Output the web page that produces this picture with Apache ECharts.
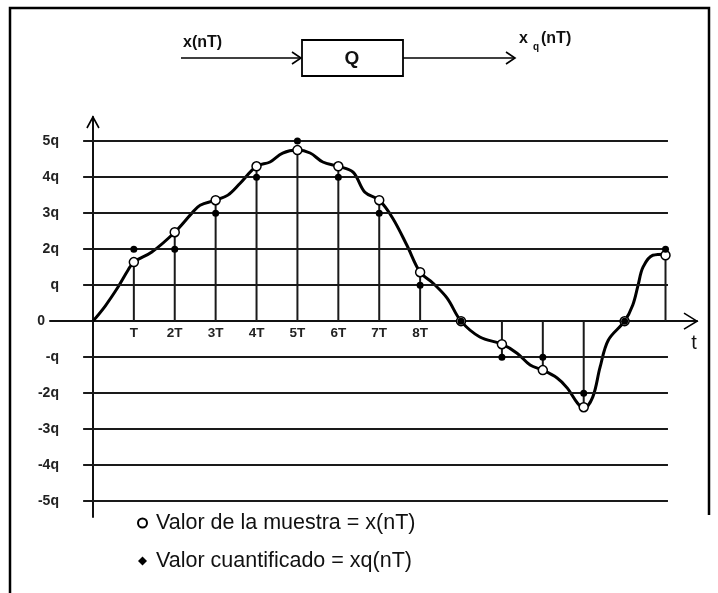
<!DOCTYPE html>
<html>
<head>
<meta charset="utf-8">
<script src="https://cdn.jsdelivr.net/npm/echarts@6/dist/echarts.min.js"></script>
<style>
html,body{margin:0;padding:0;background:#fff;}
#c{width:718px;height:593px;}
</style>
</head>
<body>
<div id="c"></div>
<script>
// ---- data ----
const sampleTimes = [1, 2, 3, 4, 5, 6, 7, 8, 9, 10, 11, 12, 13, 14];
const sampleValues = [1.64, 2.47, 3.36, 4.3, 4.75, 4.3, 3.36, 1.36, 0, -0.64, -1.36, -2.39, 0, 1.83];
const quantizedValues = [2, 2, 3, 4, 5, 4, 3, 1, 0, -1, -1, -2, 0, 2];
const stemEnds = [1.64, 2.47, 3.36, 4.3, 4.75, 4.3, 3.36, 1.36, 0, -1, -1.36, -2.3, 0, 2];
const curveT = [0, 0.3, 0.61, 0.86, 1, 1.44, 2, 2.42, 2.62, 3, 3.3, 3.6, 4, 4.33, 4.64, 5, 5.31, 5.62, 6, 6.36, 6.65, 7, 7.33, 7.68, 8, 8.31, 8.66, 9, 9.46, 10, 10.37, 10.69, 11, 11.35, 11.6, 11.85, 12, 12.22, 12.4, 12.6, 13, 13.2, 13.33, 13.45, 13.69, 14];
const curveV = [0, 0.42, 0.94, 1.42, 1.64, 1.92, 2.47, 3.0, 3.22, 3.36, 3.5, 3.83, 4.3, 4.42, 4.67, 4.75, 4.67, 4.42, 4.3, 4.14, 3.58, 3.36, 2.86, 2.1, 1.36, 1.06, 0.64, 0, -0.44, -0.64, -0.89, -1.22, -1.36, -1.58, -1.86, -2.28, -2.42, -2.11, -1.28, -0.53, 0, 0.45, 1.0, 1.5, 1.83, 1.86];
const xTickValues = [1, 2, 3, 4, 5, 6, 7, 8];
const xTickLabels = ['T', '2T', '3T', '4T', '5T', '6T', '7T', '8T'];
const yTickValues = [5, 4, 3, 2, 1, 0, -1, -2, -3, -4, -5];
const yTickLabels = ['5q', '4q', '3q', '2q', 'q', '0', '-q', '-2q', '-3q', '-4q', '-5q'];
const gridLevels = [5, 4, 3, 2, 1, -1, -2, -3, -4, -5];
const seriesNames = ['Valor de la muestra = x(nT)', 'Valor cuantificado = xq(nT)'];

// ---- layout ----
const FONT = 'Liberation Sans, Arial, sans-serif';
const xMin = -1.05, xMax = 14.77, yMin = -5.44, yMax = 5.67;
const gridStart = -0.24, gridEnd = 14.06;
const G = { left: 50, right: 21, top: 117, bottom: 76 };
const W = 718, H = 593;
const gw = W - G.left - G.right, gh = H - G.top - G.bottom;
// shift axes so they cross at (0,0)
const xAxisOffset = -(gh * (0 - yMin) / (yMax - yMin));
const yAxisOffset = -(gw * (0 - xMin) / (xMax - xMin));

const chart = echarts.init(document.getElementById('c'));
chart.setOption({
  animation: false,
  backgroundColor: '#fff',
  grid: G,
  legend: {
    orient: 'vertical', left: 132, top: 507,
    itemWidth: 9, itemHeight: 9, itemGap: 16,
    selectedMode: false,
    textStyle: { fontFamily: FONT, fontSize: 21.5, color: '#111', padding: [0, 0, 0, 4] },
    data: [{ name: seriesNames[0], icon: 'circle' }, { name: seriesNames[1], icon: 'diamond' }]
  },
  xAxis: {
    type: 'value', min: xMin, max: xMax, position: 'bottom', offset: xAxisOffset,
    axisLine: { onZero: false, lineStyle: { color: '#111', width: 2 } },
    axisTick: { show: false },
    splitLine: { show: false },
    axisLabel: {
      customValues: xTickValues,
      formatter: v => { const i = xTickValues.indexOf(v); return i >= 0 ? xTickLabels[i] : ''; },
      fontFamily: FONT, fontWeight: 'bold', fontSize: 13.5, color: '#222', margin: 5
    }
  },
  yAxis: {
    type: 'value', min: yMin, max: yMax, position: 'left', offset: yAxisOffset,
    axisLine: { onZero: false, lineStyle: { color: '#111', width: 2 } },
    axisTick: { show: false },
    splitLine: { show: false },
    axisLabel: {
      customValues: yTickValues,
      formatter: v => {
        const i = yTickValues.indexOf(v);
        if (i < 0) return '';
        return v === 0 ? '{z|' + yTickLabels[i] + '}' : yTickLabels[i];
      },
      rich: { z: { fontFamily: FONT, fontWeight: 'bold', fontSize: 14, color: '#222', padding: [0, 14, 0, 0] } },
      fontFamily: FONT, fontWeight: 'bold', fontSize: 14, color: '#222', margin: 34
    }
  },
  series: [
    {
      type: 'bar', name: 'stems', silent: true, z: 2,
      barWidth: 2,
      itemStyle: { color: '#1a1a1a' },
      data: sampleTimes.map((t, i) => [t, stemEnds[i]]),
      markLine: {
        silent: true, symbol: ['none', 'none'], label: { show: false },
        lineStyle: { color: '#1a1a1a', width: 2, type: 'solid' },
        emphasis: { disabled: true },
        data: gridLevels.map(k => [{ coord: [gridStart, k] }, { coord: [gridEnd, k] }])
      }
    },
    {
      type: 'line', name: 'curve', silent: true, z: 3,
      smooth: 0.35, symbol: 'none',
      lineStyle: { color: '#000', width: 3 },
      data: curveT.map((t, i) => [t, curveV[i]])
    },
    {
      type: 'scatter', name: seriesNames[0], z: 4,
      symbol: 'circle', symbolSize: 9,
      itemStyle: { color: '#fff', borderColor: '#000', borderWidth: 1.5, opacity: 1 },
      data: sampleTimes.map((t, i) => [t, sampleValues[i]])
    },
    {
      type: 'scatter', name: seriesNames[1], z: 5,
      symbol: 'circle', symbolSize: 7,
      itemStyle: { color: '#000', opacity: 1 },
      data: sampleTimes.map((t, i) => [t, quantizedValues[i]])
    }
  ]
});

// ---- decorations: arrows, axis name, block diagram, frame ----
const px = p => chart.convertToPixel({ gridIndex: 0 }, p);
const xEnd = px([xMax, 0]);
const yEnd = px([0, yMax]);
const stroke = { stroke: '#000', lineWidth: 1.6, fill: null };
chart.setOption({
  graphic: [
    { type: 'polyline', shape: { points: [[xEnd[0] - 13, xEnd[1] - 8], xEnd, [xEnd[0] - 13, xEnd[1] + 8]] }, style: stroke, z: 10 },
    { type: 'polyline', shape: { points: [[yEnd[0] - 6, yEnd[1] + 11], yEnd, [yEnd[0] + 6, yEnd[1] + 11]] }, style: stroke, z: 10 },
    { type: 'text', x: xEnd[0] - 3, y: xEnd[1] + 22, style: { text: 't', font: '20px ' + FONT, fill: '#111', align: 'center', verticalAlign: 'middle' } },
    // block diagram
    { type: 'text', x: 183, y: 43, style: { text: 'x(nT)', font: 'bold 16px ' + FONT, fill: '#111', verticalAlign: 'middle' } },
    { type: 'line', shape: { x1: 181, y1: 58, x2: 301, y2: 58 }, style: stroke },
    { type: 'polyline', shape: { points: [[292, 52], [301, 58], [292, 64]] }, style: stroke },
    { type: 'rect', shape: { x: 302, y: 40, width: 101, height: 36 }, style: { stroke: '#000', lineWidth: 1.8, fill: '#fff' } },
    { type: 'text', x: 352, y: 59, style: { text: 'Q', font: 'bold 19px ' + FONT, fill: '#111', align: 'center', verticalAlign: 'middle' } },
    { type: 'line', shape: { x1: 403, y1: 58, x2: 515, y2: 58 }, style: stroke },
    { type: 'polyline', shape: { points: [[506, 52], [515, 58], [506, 64]] }, style: stroke },
    { type: 'text', x: 519, y: 39, style: { text: 'x', font: 'bold 16px ' + FONT, fill: '#111', verticalAlign: 'middle' } },
    { type: 'text', x: 533, y: 47, style: { text: 'q', font: 'bold 10px ' + FONT, fill: '#111', verticalAlign: 'middle' } },
    { type: 'text', x: 541, y: 39, style: { text: '(nT)', font: 'bold 16px ' + FONT, fill: '#111', verticalAlign: 'middle' } },
    // frame
    { type: 'polyline', shape: { points: [[10, 593], [10, 8], [709, 8], [709, 515]] }, style: { stroke: '#000', lineWidth: 2.5, fill: null } }
  ]
});
</script>
</body>
</html>
